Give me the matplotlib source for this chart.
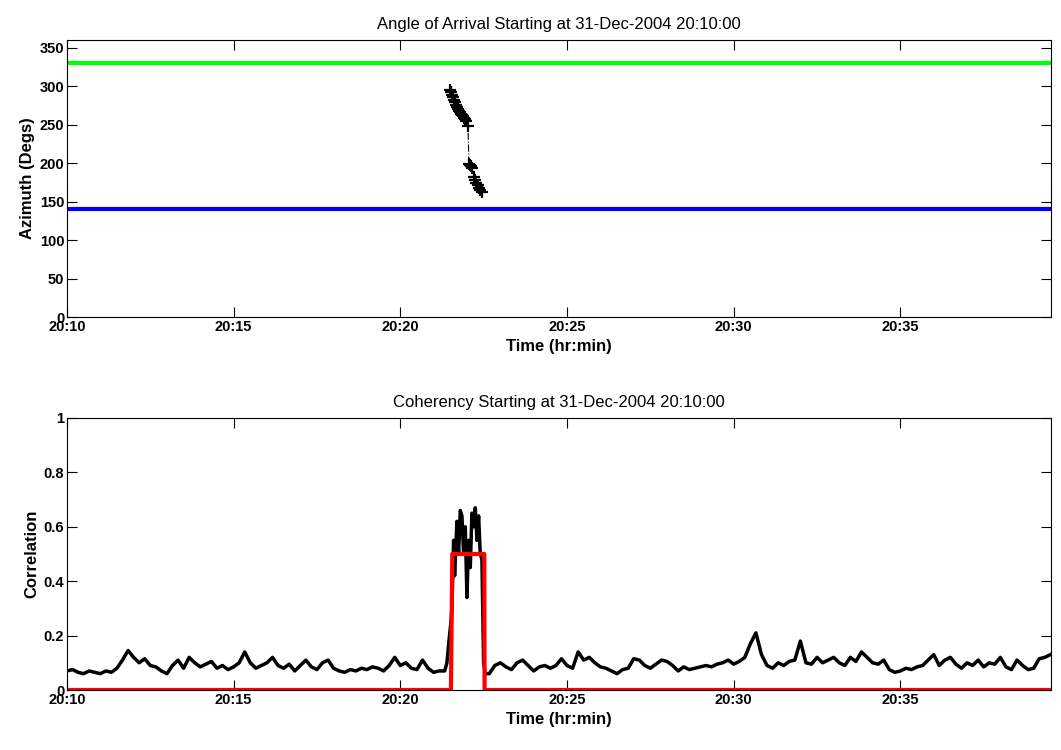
import numpy as np
import matplotlib
matplotlib.use("Agg")
import matplotlib.pyplot as plt

plt.rcParams["font.family"] = ["Liberation Sans", "DejaVu Sans"]

# ── Données ─────────────────────────────────────────────────────────────────
START_LABEL = "31-Dec-2004 20:10:00"
XTICKS_MIN  = [0, 5, 10, 15, 20, 25]
XTICK_LBL   = ["20:10", "20:15", "20:20", "20:25", "20:30", "20:35"]
X_END_MIN   = 29.52

AZ_UPPER = 330     # ligne verte
AZ_LOWER = 140     # ligne bleue

# azimut détecté (minutes depuis 20:10, degrés)
az_t = [11.50, 11.53, 11.56, 11.59, 11.62, 11.65, 11.68, 11.71, 11.74, 11.77,
        11.80, 11.83, 11.86, 11.89, 11.92, 11.95, 11.98, 12.03, 12.06, 12.09,
        12.12, 12.16, 12.20, 12.24, 12.28, 12.32, 12.36, 12.40, 12.44]
az_v = [295, 292, 289, 286, 282, 279, 276, 273, 270, 268,
        266, 264, 262, 261, 259, 257, 255, 248, 199, 198,
        196, 194, 182, 178, 174, 171, 168, 165, 163]

# cohérence : pas de 10 s avant le pic
coh_pre = [0.070, 0.075, 0.065, 0.060, 0.070, 0.065, 0.060, 0.070, 0.065, 0.080,
           0.110, 0.145, 0.120, 0.100, 0.115, 0.090, 0.085, 0.070, 0.060, 0.090,
           0.110, 0.080, 0.120, 0.100, 0.085, 0.095, 0.105, 0.080, 0.090, 0.075,
           0.085, 0.100, 0.140, 0.100, 0.080, 0.090, 0.100, 0.120, 0.090, 0.080,
           0.095, 0.070, 0.090, 0.110, 0.085, 0.075, 0.100, 0.110, 0.080, 0.070,
           0.065, 0.075, 0.070, 0.080, 0.075, 0.085, 0.080, 0.070, 0.090, 0.120,
           0.090, 0.100, 0.080, 0.075, 0.110, 0.080, 0.065, 0.070, 0.070]
# pic (temps explicites)
coh_spk_t = [11.40, 11.46, 11.52, 11.55, 11.60, 11.63, 11.70, 11.75, 11.80, 11.85,
             11.90, 11.95, 12.00, 12.05, 12.10, 12.15, 12.20, 12.25, 12.30, 12.35,
             12.40, 12.45, 12.50, 12.55]
coh_spk_v = [0.10, 0.18, 0.25, 0.30, 0.55, 0.42, 0.62, 0.50, 0.66, 0.64,
             0.50, 0.60, 0.34, 0.55, 0.45, 0.65, 0.60, 0.67, 0.55, 0.64,
             0.50, 0.48, 0.10, 0.06]
# après le pic, pas de 10 s à partir de 12.67 min
coh_post = [0.060, 0.090, 0.100, 0.085, 0.075, 0.100, 0.110, 0.090, 0.070, 0.085,
            0.090, 0.080, 0.090, 0.115, 0.090, 0.080, 0.140, 0.110, 0.120, 0.100,
            0.085, 0.080, 0.070, 0.060, 0.075, 0.080, 0.115, 0.110, 0.090, 0.080,
            0.095, 0.110, 0.105, 0.090, 0.070, 0.085, 0.075, 0.080, 0.085, 0.090,
            0.085, 0.095, 0.100, 0.110, 0.095, 0.105, 0.120, 0.170, 0.210, 0.130,
            0.090, 0.080, 0.100, 0.090, 0.105, 0.110, 0.180, 0.100, 0.095, 0.120,
            0.100, 0.110, 0.120, 0.100, 0.090, 0.120, 0.105, 0.140, 0.120, 0.100,
            0.095, 0.110, 0.075, 0.065, 0.070, 0.080, 0.075, 0.085, 0.090, 0.110,
            0.130, 0.090, 0.110, 0.120, 0.095, 0.080, 0.100, 0.090, 0.110, 0.085,
            0.100, 0.095, 0.120, 0.085, 0.075, 0.110, 0.090, 0.075, 0.080, 0.115,
            0.120, 0.130]
STEP_MIN  = 1 / 6
POST_T0   = 12.67

# seuil de détection (rouge)
det_t = [0.0, 11.52, 11.54, 11.56, 12.52, 12.53, X_END_MIN]
det_v = [0.0, 0.0, 0.24, 0.50, 0.50, 0.0, 0.0]

coh_t = np.concatenate([np.arange(len(coh_pre)) * STEP_MIN,
                        coh_spk_t,
                        POST_T0 + np.arange(len(coh_post)) * STEP_MIN])
coh_v = np.concatenate([coh_pre, coh_spk_v, coh_post])

# ── Figure ───────────────────────────────────────────────────────────────────
fig = plt.figure(figsize=(10.61, 7.5), dpi=100, facecolor="white")
ax1 = fig.add_axes([0.0631, 0.5773, 0.9274, 0.3693])
ax2 = fig.add_axes([0.0631, 0.0800, 0.9274, 0.3627])

def style(ax):
    ax.set_xlim(0, X_END_MIN)
    ax.set_xticks(XTICKS_MIN)
    ax.set_xticklabels(XTICK_LBL)
    ax.tick_params(direction="in", length=7, width=0.8, top=True, right=True,
                   labelsize=10.5, pad=2)
    for lbl in ax.get_xticklabels() + ax.get_yticklabels():
        lbl.set_fontweight("bold")
    for sp in ax.spines.values():
        sp.set_linewidth(0.8)
    ax.set_xlabel("Time (hr:min)", fontsize=12, fontweight="bold", labelpad=4)

# haut : azimut
ax1.axhline(AZ_UPPER, color="#00ff00", lw=3)
ax1.axhline(AZ_LOWER, color="#0000ff", lw=3)
ax1.plot(az_t, az_v, color="black", ls="-.", lw=0.8, marker="+",
         ms=8, mew=1.6)
ax1.set_ylim(0, 360)
ax1.set_yticks(range(0, 351, 50))
style(ax1)
ax1.set_ylabel("Azimuth (Degs)", fontsize=12, fontweight="bold", labelpad=3)
ax1.set_title(f"Angle of Arrival Starting at {START_LABEL}", fontsize=12, pad=8)

# bas : cohérence
ax2.plot(coh_t, coh_v, color="black", lw=2.5)
ax2.plot(det_t, det_v, color="#ff0000", lw=3)
ax2.set_ylim(0, 1)
ax2.set_yticks([0, 0.2, 0.4, 0.6, 0.8, 1])
style(ax2)
ax2.set_yticklabels(["0", "0.2", "0.4", "0.6", "0.8", "1"], fontweight="bold")
ax2.set_ylabel("Correlation", fontsize=12, fontweight="bold", labelpad=3)
ax2.set_title(f"Coherency Starting at {START_LABEL}", fontsize=12, pad=8)

fig.savefig("out.png", dpi=100, facecolor="white")
